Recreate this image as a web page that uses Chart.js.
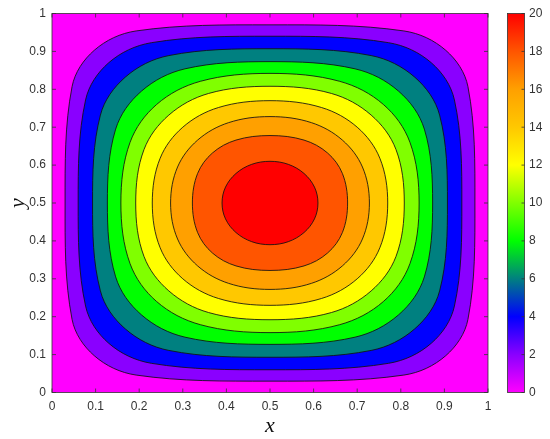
<!DOCTYPE html>
<html><head><meta charset="utf-8">
<script src="https://cdn.jsdelivr.net/npm/chart.js@4/dist/chart.umd.min.js"></script>
<style>html,body{margin:0;padding:0;background:#fff}#wrap{width:550px;height:439px}</style>
</head><body><div id="wrap"><canvas id="c" width="550" height="439"></canvas></div>
<script>
// ---- data ----
const xTicks = [0,0.1,0.2,0.3,0.4,0.5,0.6,0.7,0.8,0.9,1];
const yTicks = [0,0.1,0.2,0.3,0.4,0.5,0.6,0.7,0.8,0.9,1];
const cbTicks = [0,2,4,6,8,10,12,14,16,18,20];
const levels = [2,4,6,8,10,12,14,16,18,20];

// contour lines (closed loops), x and y coordinates
const c2x  = [0.5,0.807,0.903,0.954,0.970,0.954,0.903,0.807,0.5,0.193,0.097,0.046,0.030,0.046,0.097,0.193];
const c2y  = [0.970,0.954,0.903,0.807,0.5,0.193,0.097,0.046,0.030,0.046,0.097,0.193,0.5,0.807,0.903,0.954];
const c4x  = [0.5,0.772,0.870,0.923,0.940,0.923,0.870,0.772,0.5,0.228,0.130,0.077,0.060,0.077,0.130,0.228];
const c4y  = [0.940,0.923,0.870,0.772,0.5,0.228,0.130,0.077,0.060,0.077,0.130,0.228,0.5,0.772,0.870,0.923];
const c6x  = [0.5,0.732,0.832,0.889,0.907,0.889,0.832,0.732,0.5,0.268,0.168,0.111,0.093,0.111,0.168,0.268];
const c6y  = [0.907,0.889,0.832,0.732,0.5,0.268,0.168,0.111,0.093,0.111,0.168,0.268,0.5,0.732,0.832,0.889];
const c8x  = [0.5,0.695,0.795,0.854,0.873,0.854,0.795,0.695,0.5,0.305,0.205,0.146,0.127,0.146,0.205,0.305];
const c8y  = [0.873,0.854,0.795,0.695,0.5,0.305,0.205,0.146,0.127,0.146,0.205,0.305,0.5,0.695,0.795,0.854];
const c10x = [0.5,0.660,0.760,0.821,0.842,0.821,0.760,0.660,0.5,0.340,0.240,0.179,0.158,0.179,0.240,0.340];
const c10y = [0.842,0.821,0.760,0.660,0.5,0.340,0.240,0.179,0.158,0.179,0.240,0.340,0.5,0.660,0.760,0.821];
const c12x = [0.5,0.641,0.732,0.789,0.808,0.789,0.732,0.641,0.5,0.359,0.268,0.211,0.192,0.211,0.268,0.359];
const c12y = [0.808,0.789,0.732,0.641,0.5,0.359,0.268,0.211,0.192,0.211,0.268,0.359,0.5,0.641,0.732,0.789];
const c14x = [0.5,0.618,0.700,0.752,0.770,0.752,0.700,0.618,0.5,0.382,0.300,0.248,0.230,0.248,0.300,0.382];
const c14y = [0.770,0.752,0.700,0.618,0.5,0.382,0.300,0.248,0.230,0.248,0.300,0.382,0.5,0.618,0.700,0.752];
const c16x = [0.5,0.595,0.666,0.712,0.728,0.712,0.666,0.595,0.5,0.405,0.334,0.288,0.272,0.288,0.334,0.405];
const c16y = [0.728,0.712,0.666,0.595,0.5,0.405,0.334,0.288,0.272,0.288,0.334,0.405,0.5,0.595,0.666,0.712];
const c18x = [0.5,0.578,0.632,0.666,0.678,0.666,0.632,0.578,0.5,0.422,0.368,0.334,0.322,0.334,0.368,0.422];
const c18y = [0.678,0.666,0.632,0.578,0.5,0.422,0.368,0.334,0.322,0.334,0.368,0.422,0.5,0.578,0.632,0.666];
const c20x = [0.5,0.542,0.578,0.602,0.610,0.602,0.578,0.542,0.5,0.458,0.422,0.398,0.390,0.398,0.422,0.458];
const c20y = [0.610,0.602,0.578,0.542,0.5,0.458,0.422,0.398,0.390,0.398,0.422,0.458,0.5,0.542,0.578,0.602];

// ---- styles ----
const cmap = ['#ff00ff','#8a00ff','#0000ff','#008080','#00ff00','#80ff00','#ffff00','#ffc800','#ffa000','#ff5500','#ff0000'];
const contoursX = [c2x,c4x,c6x,c8x,c10x,c12x,c14x,c16x,c18x,c20x];
const contoursY = [c2y,c4y,c6y,c8y,c10y,c12y,c14y,c16y,c18y,c20y];

const datasets = levels.map((lv, k) => ({
  label: 'level ' + lv,
  data: contoursX[k].map((x, i) => ({x: x, y: contoursY[k][i]})),
  showLine: true,
  fill: 'shape',
  backgroundColor: cmap[k + 1],
  borderColor: '#111',
  borderWidth: 0.85,
  pointRadius: 0,
  tension: 0.35,
  order: levels.length - k
}));

const tickFont = {family: 'Liberation Sans', size: 12};
const tickColor = '#333';
const fmt = v => String(+(+v).toFixed(1));

// make every contour a closed loop (smooth through the start point)
const loopPlugin = {
  id: 'loop',
  afterDatasetUpdate(chart, args) {
    const ln = args.meta.dataset;
    if (ln) { ln._loop = true; ln._fullLoop = true; }
  }
};

const bgPlugin = {
  id: 'bg',
  beforeDatasetsDraw(chart) {
    const a = chart.chartArea, ctx = chart.ctx;
    ctx.save(); ctx.fillStyle = cmap[0];
    ctx.fillRect(a.left, a.top, a.right - a.left, a.bottom - a.top);
    ctx.restore();
  }
};

const framePlugin = {
  id: 'frame',
  afterDraw(chart) {
    const a = chart.chartArea, ctx = chart.ctx;
    const sx = chart.scales.x, sy = chart.scales.y, cb = chart.scales.cb;
    ctx.save();
    ctx.strokeStyle = '#333'; ctx.lineWidth = 0.8;
    ctx.strokeRect(a.left, a.top, a.right - a.left, a.bottom - a.top);
    ctx.beginPath();
    xTicks.forEach(v => {
      const p = sx.getPixelForValue(v);
      ctx.moveTo(p, a.bottom); ctx.lineTo(p, a.bottom - 4);
      ctx.moveTo(p, a.top); ctx.lineTo(p, a.top + 4);
    });
    yTicks.forEach(v => {
      const p = sy.getPixelForValue(v);
      ctx.moveTo(a.left, p); ctx.lineTo(a.left + 4, p);
      ctx.moveTo(a.right, p); ctx.lineTo(a.right - 4, p);
    });
    ctx.stroke();
    // colorbar
    const x0 = a.right + 19.5, w = 17;
    const top = cb.getPixelForValue(cbTicks[cbTicks.length - 1]);
    const bot = cb.getPixelForValue(cbTicks[0]);
    const g = ctx.createLinearGradient(0, bot, 0, top);
    cbTicks.forEach((v, i) => g.addColorStop((v - cbTicks[0]) / (cbTicks[cbTicks.length - 1] - cbTicks[0]), cmap[i]));
    ctx.fillStyle = g;
    ctx.fillRect(x0, top, w, bot - top);
    ctx.strokeRect(x0, top, w, bot - top);
    ctx.beginPath();
    cbTicks.forEach(v => {
      const p = cb.getPixelForValue(v);
      ctx.moveTo(x0 + w, p); ctx.lineTo(x0 + w - 3, p);
    });
    ctx.stroke();
    ctx.restore();
  }
};

new Chart(document.getElementById('c'), {
  type: 'scatter',
  data: {datasets},
  options: {
    responsive: false,
    animation: false,
    layout: {padding: {top: 13.5, left: 0, right: 0, bottom: 0}},
    plugins: {legend: {display: false}, tooltip: {enabled: false}},
    scales: {
      x: {
        type: 'linear', min: 0, max: 1, position: 'bottom',
        afterBuildTicks: s => { s.ticks = xTicks.map(v => ({value: v})); },
        ticks: {padding: 7, font: tickFont, color: tickColor, callback: fmt, maxRotation: 0, autoSkip: false},
        grid: {display: false, drawTicks: false}, border: {display: false},
        title: {display: true, text: 'x', color: '#111', font: {family: 'Liberation Serif', style: 'italic', size: 22}, padding: {top: 0, bottom: 0}},
        afterFit: s => { s.height = 46.5; s.paddingLeft = 0; s.paddingRight = 0; }
      },
      y: {
        type: 'linear', min: 0, max: 1, position: 'left',
        afterBuildTicks: s => { s.ticks = yTicks.map(v => ({value: v})); },
        ticks: {padding: 6, font: tickFont, color: tickColor, callback: fmt, autoSkip: false},
        grid: {display: false, drawTicks: false}, border: {display: false},
        title: {display: true, text: 'y', color: '#111', font: {family: 'Liberation Serif', style: 'italic', size: 22}, padding: {top: 5, bottom: 0}},
        afterFit: s => { s.width = 52; s.paddingTop = 0; s.paddingBottom = 0; }
      },
      cb: {
        type: 'linear', min: 0, max: 20, position: 'right',
        afterBuildTicks: s => { s.ticks = cbTicks.map(v => ({value: v})); },
        ticks: {padding: 41, font: tickFont, color: tickColor, autoSkip: false},
        grid: {display: false, drawTicks: false}, border: {display: false},
        afterFit: s => { s.width = 62; s.paddingTop = 0; s.paddingBottom = 0; }
      }
    }
  },
  plugins: [loopPlugin, bgPlugin, framePlugin]
});
</script></body></html>
